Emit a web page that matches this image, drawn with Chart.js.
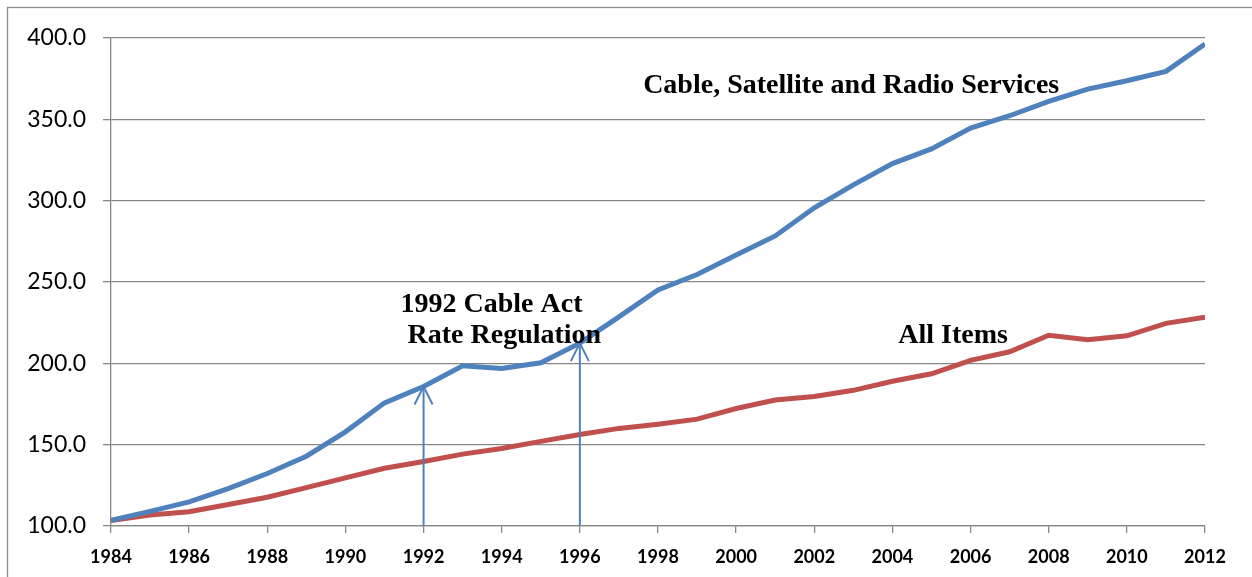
<!DOCTYPE html>
<html>
<head>
<meta charset="utf-8">
<script src="https://cdn.jsdelivr.net/npm/chart.js@4/dist/chart.umd.min.js"></script>
<style>
  html, body { margin: 0; padding: 0; background: #ffffff; }
  #wrap { width: 1252px; height: 577px; position: relative; }
</style>
</head>
<body>
<div id="wrap"><canvas id="chart"></canvas></div>
<script>
// Price indexes by year
const years = [1984, 1985, 1986, 1987, 1988, 1989, 1990, 1991, 1992, 1993,
               1994, 1995, 1996, 1997, 1998, 1999, 2000, 2001, 2002, 2003,
               2004, 2005, 2006, 2007, 2008, 2009, 2010, 2011, 2012];

const cableSatelliteRadio = [103.5, 109.0, 114.8, 123.0, 132.3, 142.9, 157.9, 175.7, 185.8, 198.5,
                             196.8, 200.3, 212.4, 228.6, 245.1, 254.6, 266.6, 278.3, 295.6, 309.7,
                             322.8, 331.8, 344.6, 352.2, 361.0, 368.6, 373.7, 379.5, 396.3];

const allItems = [103.4, 106.8, 108.8, 113.2, 117.7, 123.6, 129.6, 135.5, 139.6, 144.2,
                  147.7, 152.0, 156.3, 160.0, 162.6, 165.7, 172.2, 177.4, 179.6, 183.4,
                  189.0, 193.6, 201.8, 207.1, 217.3, 214.5, 216.9, 224.6, 228.4];

const seriesNames = ['Cable, Satellite and Radio Services', 'All Items'];

// Arrows mark the rate regulation years on the cable series
const regulationYears = [1992, 1996];

// Text notes
const noteCable = ['Cable, Satellite and Radio Services'];
const noteAct = ['1992 Cable Act', ' Rate Regulation'];
const noteAll = ['All Items'];

const yMin = 100, yMax = 400, yStep = 50;
const xMin = 1984, xMax = 2012, xStep = 2;

const BLUE = '#4F81BD';
const RED = '#C0504D';
const GRID = '#878787';

const toPoints = vals => years.map((y, i) => ({ x: y, y: vals[i] }));

const framePlugin = {
  id: 'frame',
  beforeDraw(chart) {
    const ctx = chart.ctx;
    ctx.save();
    ctx.fillStyle = '#ffffff';
    ctx.fillRect(0, 0, chart.width, chart.height);
    ctx.strokeStyle = '#8c8c8c';
    ctx.lineWidth = 1.3;
    ctx.strokeRect(7.5, 7.5, chart.width + 20, chart.height + 20);
    ctx.restore();
  }
};

const notesPlugin = {
  id: 'notes',
  afterDatasetsDraw(chart) {
    const ctx = chart.ctx;
    const xs = chart.scales.x, ys = chart.scales.y;
    ctx.save();

    // regulation arrows, from the axis up to the cable line
    ctx.strokeStyle = BLUE;
    ctx.lineWidth = 2;
    regulationYears.forEach(yr => {
      const v = cableSatelliteRadio[years.indexOf(yr)];
      const px = xs.getPixelForValue(yr);
      const top = ys.getPixelForValue(v);
      const bottom = ys.getPixelForValue(yMin);
      ctx.beginPath();
      ctx.moveTo(px, bottom);
      ctx.lineTo(px, top);
      ctx.stroke();
      ctx.beginPath();
      ctx.moveTo(px - 9, top + 18);
      ctx.lineTo(px, top);
      ctx.lineTo(px + 9, top + 18);
      ctx.stroke();
    });

    ctx.fillStyle = '#000000';
    ctx.font = 'bold 28px "Liberation Serif", serif';
    ctx.textBaseline = 'alphabetic';
    ctx.textAlign = 'left';
    const put = (lines, year, value, lineGap) => {
      const px = xs.getPixelForValue(year);
      const py = ys.getPixelForValue(value);
      lines.forEach((t, i) => ctx.fillText(t, px, py + i * lineGap));
    };
    put(noteCable, 1997.62, 366.3, 0);
    put(noteAct, 1991.41, 231.7, 31);
    put(noteAll, 2004.15, 212.6, 0);
    ctx.restore();
  }
};

new Chart(document.getElementById('chart'), {
  type: 'line',
  data: {
    datasets: [
      { label: seriesNames[0], data: toPoints(cableSatelliteRadio), borderColor: BLUE,
        borderWidth: 5, pointRadius: 0, tension: 0, fill: false },
      { label: seriesNames[1], data: toPoints(allItems), borderColor: RED,
        borderWidth: 5, pointRadius: 0, tension: 0, fill: false }
    ]
  },
  options: {
    responsive: true,
    maintainAspectRatio: false,
    animation: false,
    devicePixelRatio: 1,
    layout: { padding: { left: 0, right: 47, top: 38, bottom: 0 } },
    plugins: {
      legend: { display: false },
      tooltip: { enabled: false },
      title: { display: false }
    },
    scales: {
      x: {
        type: 'linear',
        min: xMin, max: xMax,
        ticks: {
          stepSize: xStep,
          color: '#000000',
          font: { family: 'Lato', weight: 'bold', size: 18 },
          padding: 13,
          maxRotation: 0,
          callback: v => String(v)
        },
        grid: { drawOnChartArea: false, drawTicks: true, tickLength: 7, color: GRID, lineWidth: 1.3 },
        border: { color: GRID, width: 1.3 },
        afterFit: s => { s.height = 51; }
      },
      y: {
        min: yMin, max: yMax,
        ticks: {
          stepSize: yStep,
          color: '#000000',
          font: { family: 'Lato', size: 23 },
          padding: 17,
          callback: v => v.toFixed(1)
        },
        grid: { color: GRID, lineWidth: 1.3, drawTicks: true, tickLength: 8 },
        border: { color: GRID, width: 1.3 },
        afterFit: s => { s.width = 111; }
      }
    }
  },
  plugins: [framePlugin, notesPlugin]
});
</script>
</body>
</html>
